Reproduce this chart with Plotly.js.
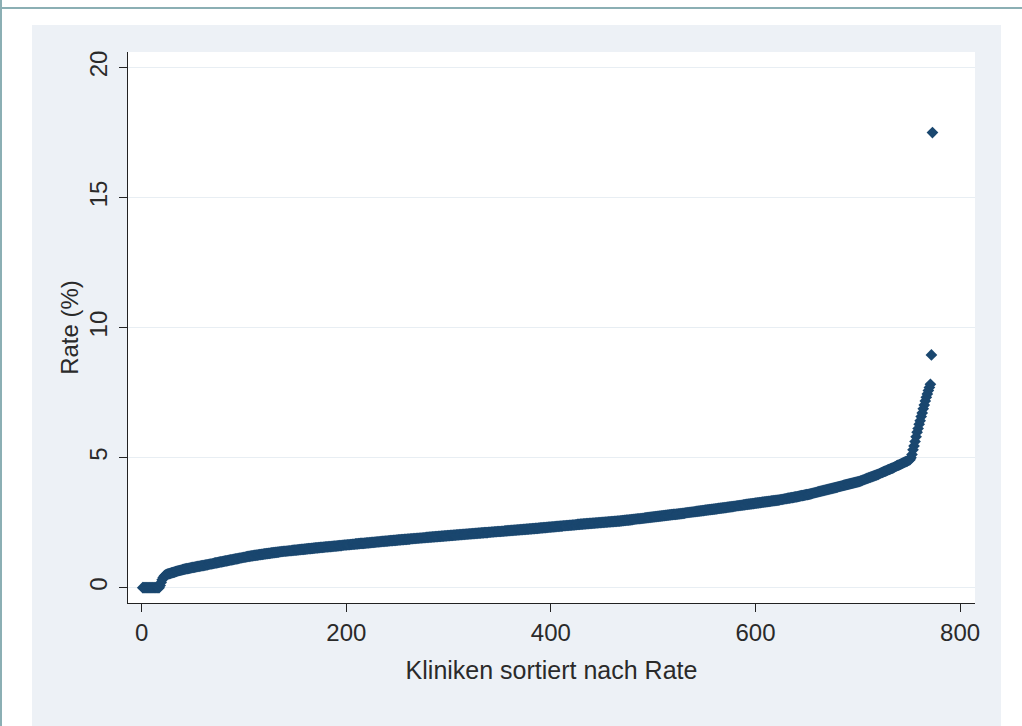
<!DOCTYPE html>
<html>
<head>
<meta charset="utf-8">
<script src="https://cdn.plot.ly/plotly-3.0.1.min.js"></script>
<style>
  html, body { margin: 0; padding: 0; background: #ffffff; width: 1022px; height: 726px; overflow: hidden; }
  #topline { position: absolute; left: 0; top: 7px; width: 1022px; height: 2px; background: #8BAFB4; }
  #leftline { position: absolute; left: 0; top: 0; width: 2px; height: 726px; background: #8BAFB4; }
  #chart { position: absolute; left: 32px; top: 25px; width: 969px; height: 701px; }
</style>
</head>
<body>
<div id="topline"></div>
<div id="leftline"></div>
<div id="chart"></div>
<script>
// Rate (%) per clinic, sorted ascending
const rate = [
  0,0,0,0,0,0,0,0,0,0,
  0,0,0,0,0,0,0,0.08,0.2,0.3,
  0.38,0.44,0.48,0.5,0.52,0.53,0.54,0.55,0.57,0.58,
  0.59,0.6,0.62,0.63,0.64,0.65,0.66,0.67,0.68,0.69,
  0.7,0.71,0.72,0.73,0.73,0.74,0.75,0.76,0.77,0.78,
  0.78,0.79,0.8,0.81,0.82,0.82,0.83,0.84,0.85,0.85,
  0.86,0.87,0.88,0.88,0.89,0.9,0.91,0.91,0.92,0.93,
  0.94,0.95,0.95,0.96,0.97,0.98,0.99,0.99,1.0,1.01,
  1.02,1.03,1.03,1.04,1.05,1.06,1.07,1.07,1.08,1.09,
  1.1,1.11,1.11,1.12,1.13,1.14,1.14,1.15,1.16,1.17,
  1.17,1.18,1.19,1.2,1.2,1.21,1.22,1.22,1.23,1.24,
  1.24,1.25,1.25,1.26,1.27,1.27,1.28,1.28,1.29,1.3,
  1.3,1.31,1.31,1.32,1.32,1.33,1.34,1.34,1.35,1.35,
  1.36,1.36,1.37,1.37,1.38,1.38,1.39,1.39,1.4,1.4,
  1.4,1.41,1.41,1.42,1.42,1.42,1.43,1.43,1.44,1.44,
  1.44,1.45,1.45,1.46,1.46,1.47,1.47,1.47,1.48,1.48,
  1.49,1.49,1.5,1.5,1.5,1.51,1.51,1.52,1.52,1.53,
  1.53,1.53,1.54,1.54,1.55,1.55,1.55,1.56,1.56,1.57,
  1.57,1.57,1.58,1.58,1.58,1.59,1.59,1.6,1.6,1.6,
  1.61,1.61,1.62,1.62,1.62,1.63,1.63,1.64,1.64,1.64,
  1.65,1.65,1.65,1.66,1.66,1.67,1.67,1.67,1.68,1.68,
  1.68,1.69,1.69,1.7,1.7,1.7,1.7,1.71,1.71,1.72,
  1.72,1.72,1.73,1.73,1.74,1.74,1.74,1.75,1.75,1.76,
  1.76,1.76,1.77,1.77,1.78,1.78,1.78,1.79,1.79,1.79,
  1.8,1.8,1.81,1.81,1.81,1.82,1.82,1.82,1.83,1.83,
  1.84,1.84,1.84,1.85,1.85,1.85,1.86,1.86,1.86,1.87,
  1.87,1.87,1.88,1.88,1.88,1.89,1.89,1.89,1.9,1.9,
  1.9,1.91,1.91,1.91,1.92,1.92,1.92,1.93,1.93,1.93,
  1.94,1.94,1.94,1.95,1.95,1.95,1.96,1.96,1.96,1.97,
  1.97,1.97,1.98,1.98,1.98,1.99,1.99,1.99,2.0,2.0,
  2.0,2.01,2.01,2.01,2.02,2.02,2.02,2.03,2.03,2.03,
  2.04,2.04,2.04,2.05,2.05,2.05,2.06,2.06,2.06,2.07,
  2.07,2.07,2.08,2.08,2.08,2.09,2.09,2.09,2.1,2.1,
  2.1,2.11,2.11,2.11,2.12,2.12,2.12,2.12,2.13,2.13,
  2.13,2.14,2.14,2.14,2.15,2.15,2.15,2.16,2.16,2.16,
  2.16,2.17,2.17,2.17,2.18,2.18,2.18,2.19,2.19,2.19,
  2.2,2.2,2.2,2.21,2.21,2.21,2.22,2.22,2.22,2.23,
  2.23,2.23,2.24,2.24,2.24,2.25,2.25,2.25,2.26,2.26,
  2.26,2.27,2.27,2.27,2.28,2.28,2.28,2.29,2.29,2.3,
  2.3,2.3,2.31,2.31,2.31,2.32,2.32,2.33,2.33,2.33,
  2.34,2.34,2.34,2.35,2.35,2.36,2.36,2.36,2.37,2.37,
  2.37,2.38,2.38,2.38,2.39,2.39,2.39,2.4,2.4,2.4,
  2.41,2.41,2.41,2.42,2.42,2.43,2.43,2.43,2.44,2.44,
  2.44,2.45,2.45,2.45,2.46,2.46,2.46,2.47,2.47,2.47,
  2.48,2.48,2.48,2.49,2.49,2.49,2.5,2.5,2.5,2.51,
  2.51,2.51,2.52,2.52,2.52,2.53,2.53,2.53,2.54,2.54,
  2.54,2.55,2.55,2.55,2.56,2.56,2.56,2.57,2.57,2.58,
  2.58,2.59,2.59,2.6,2.6,2.6,2.61,2.61,2.62,2.62,
  2.63,2.63,2.64,2.64,2.65,2.65,2.65,2.66,2.66,2.67,
  2.67,2.68,2.68,2.69,2.69,2.7,2.7,2.71,2.71,2.72,
  2.72,2.73,2.73,2.74,2.74,2.75,2.75,2.76,2.76,2.77,
  2.77,2.78,2.78,2.79,2.79,2.8,2.8,2.81,2.81,2.82,
  2.82,2.82,2.83,2.83,2.84,2.84,2.85,2.85,2.86,2.86,
  2.87,2.88,2.88,2.89,2.89,2.9,2.9,2.91,2.91,2.92,
  2.92,2.93,2.93,2.94,2.94,2.95,2.95,2.96,2.96,2.97,
  2.98,2.98,2.99,2.99,3.0,3.0,3.01,3.01,3.02,3.02,
  3.03,3.03,3.04,3.05,3.05,3.06,3.06,3.07,3.07,3.08,
  3.08,3.09,3.1,3.1,3.11,3.11,3.12,3.12,3.13,3.13,
  3.14,3.15,3.15,3.16,3.16,3.17,3.17,3.18,3.18,3.19,
  3.2,3.2,3.21,3.21,3.22,3.22,3.23,3.23,3.24,3.25,
  3.25,3.26,3.26,3.27,3.27,3.28,3.29,3.29,3.3,3.3,
  3.31,3.31,3.32,3.32,3.33,3.34,3.34,3.35,3.35,3.36,
  3.36,3.37,3.37,3.38,3.39,3.39,3.4,3.41,3.42,3.42,
  3.43,3.44,3.44,3.45,3.46,3.46,3.47,3.48,3.49,3.49,
  3.5,3.51,3.52,3.53,3.54,3.54,3.55,3.56,3.57,3.58,
  3.58,3.59,3.6,3.61,3.62,3.63,3.64,3.65,3.66,3.67,
  3.68,3.69,3.7,3.71,3.72,3.73,3.74,3.75,3.76,3.77,
  3.78,3.79,3.8,3.81,3.82,3.83,3.84,3.85,3.86,3.87,
  3.88,3.89,3.9,3.91,3.92,3.93,3.94,3.95,3.96,3.97,
  3.98,3.99,4.0,4.01,4.02,4.03,4.04,4.05,4.06,4.07,
  4.08,4.09,4.11,4.12,4.14,4.15,4.17,4.18,4.2,4.21,
  4.23,4.24,4.26,4.27,4.29,4.3,4.32,4.33,4.35,4.36,
  4.38,4.4,4.42,4.43,4.45,4.47,4.48,4.5,4.52,4.54,
  4.55,4.57,4.59,4.6,4.62,4.64,4.66,4.68,4.7,4.71,
  4.73,4.75,4.77,4.79,4.81,4.83,4.85,4.86,4.88,4.9,
  4.92,5.0,5.12,5.3,5.45,5.62,5.8,5.98,6.12,6.28,
  6.42,6.58,6.72,6.88,7.02,7.18,7.32,7.45,7.58,7.7,
  7.82,8.95,17.5
];
// Rank of each clinic (1 = lowest rate)
const rank = rate.map((_, i) => i + 1);

const xTicks = [0, 200, 400, 600, 800];
const yTicks = [0, 5, 10, 15, 20];
const xTitle = 'Kliniken sortiert nach Rate';
const yTitle = 'Rate (%)';

const FONT = 'Liberation Sans, Arial, sans-serif';
const TXT = '#2a2a2a';

const trace = {
  x: rank,
  y: rate,
  type: 'scatter',
  mode: 'markers',
  marker: { symbol: 'diamond', size: 9, color: '#1A476F', line: { width: 0 } },
  hoverinfo: 'skip'
};

const layout = {
  width: 969,
  height: 701,
  margin: { l: 96, r: 26, t: 27, b: 123, pad: 0 },
  paper_bgcolor: '#EDF1F6',
  plot_bgcolor: '#FFFFFF',
  showlegend: false,
  font: { family: FONT, size: 24, color: TXT },
  xaxis: {
    range: [-13.4, 814.6],
    tickvals: xTicks,
    ticktext: xTicks.map(String),
    showgrid: false,
    zeroline: false,
    showline: true,
    linecolor: '#222222',
    linewidth: 1,
    ticks: 'outside',
    ticklen: 8,
    tickwidth: 1,
    tickcolor: '#222222',
    tickfont: { family: FONT, size: 24, color: TXT },
    title: { text: xTitle, font: { family: FONT, size: 25, color: TXT }, standoff: 16 }
  },
  yaxis: {
    range: [-0.59, 20.6],
    tickvals: yTicks,
    ticktext: yTicks.map(String),
    tickangle: -90,
    showgrid: true,
    gridcolor: '#E8EEF3',
    gridwidth: 1,
    zeroline: false,
    showline: true,
    linecolor: '#222222',
    linewidth: 1,
    ticks: 'outside',
    ticklen: 8,
    tickwidth: 1,
    tickcolor: '#222222',
    ticklabelstandoff: 2,
    tickfont: { family: FONT, size: 24, color: TXT },
    title: { text: yTitle, font: { family: FONT, size: 24, color: TXT }, standoff: 0 }
  }
};

Plotly.newPlot('chart', [trace], layout, { displayModeBar: false, staticPlot: true });
</script>
</body>
</html>
